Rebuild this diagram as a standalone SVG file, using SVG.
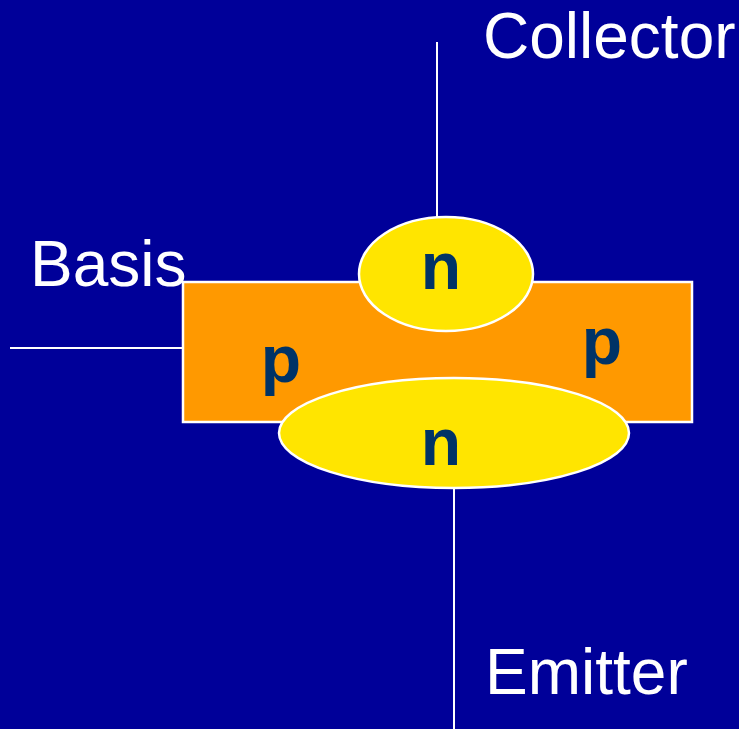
<svg xmlns="http://www.w3.org/2000/svg" width="739" height="729" viewBox="0 0 739 729">
<style>
.lbl{font-family:"Liberation Sans",Arial,sans-serif;font-size:64px;fill:#FFFFFF}
.reg{font-family:"Liberation Sans",Arial,sans-serif;font-size:66px;font-weight:bold;fill:#003366;text-anchor:middle}
.wire{stroke:#FFFFFF;stroke-width:2;fill:none}
.shape{stroke:#FFFFFF;stroke-width:2.5}
</style>
<rect width="739" height="729" fill="#000099"/>
<g id="connectors">
<line class="wire" x1="437" y1="42" x2="437" y2="218"/>
<line class="wire" x1="10" y1="348" x2="185" y2="348"/>
<line class="wire" x1="454" y1="487" x2="454" y2="729"/>
</g>
<g id="p-base">
<rect class="shape" x="183" y="282" width="509" height="140" fill="#FF9900"/>
<text class="reg" x="281" y="382">p</text>
<text class="reg" x="602" y="364">p</text>
</g>
<g id="n-collector">
<ellipse class="shape" cx="446" cy="274" rx="87" ry="57" fill="#FFE500"/>
<text class="reg" x="441" y="289">n</text>
</g>
<g id="n-emitter">
<ellipse class="shape" cx="454" cy="433" rx="175" ry="55" fill="#FFE500"/>
<text class="reg" x="441" y="465">n</text>
</g>
<g id="labels">
<text class="lbl" x="483" y="58">Collector</text>
<text class="lbl" x="30" y="286">Basis</text>
<text class="lbl" x="485" y="694">Emitter</text>
</g>
</svg>
